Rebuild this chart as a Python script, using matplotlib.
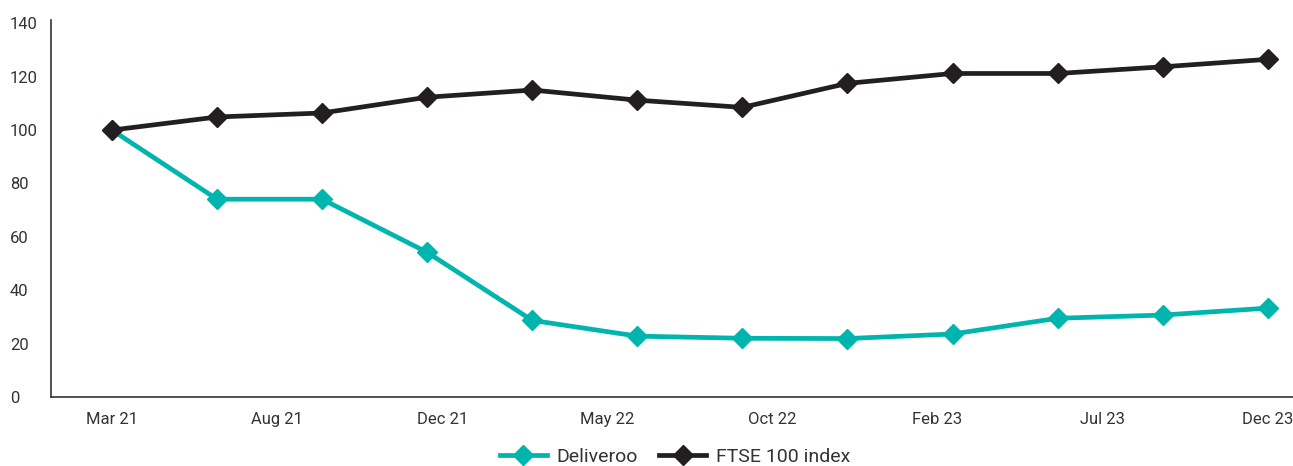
import numpy as np
import matplotlib
matplotlib.use("Agg")
from matplotlib import pyplot as plt

# data (quarterly, indexed to 100 at Mar 21)
tick_labels = ["Mar 21", "Aug 21", "Dec 21", "May 22", "Oct 22", "Feb 23", "Jul 23", "Dec 23"]
deliveroo = [100, 74.1, 74.1, 54.2, 28.7, 22.8, 22.0, 21.9, 23.6, 29.5, 30.7, 33.3]
ftse = [100, 104.9, 106.4, 112.3, 115.0, 111.2, 108.5, 117.5, 121.2, 121.2, 123.7, 126.5]
yticks = [0, 20, 40, 60, 80, 100, 120, 140]

teal = "#00b5ad"
black = "#231f20"
text_col = "#333333"

plt.rcParams['font.family'] = ['Roboto', 'DejaVu Sans']

W, H = 1293, 466
fig = plt.figure(figsize=(W / 100, H / 100), dpi=100)
ax = fig.add_axes([51 / W, 1 - 397 / H, 1 - 51 / W, (397 - 20) / H])

x = np.arange(len(ftse))
ax.plot(x, deliveroo, color=teal, lw=3.4, marker="D", ms=10.5, label="Deliveroo", zorder=2)
ax.plot(x, ftse, color=black, lw=3.4, marker="D", ms=10.5, label="FTSE 100 index", zorder=3)

ax.set_xlim(-0.58, 11.24)
ax.set_ylim(0, 140 * (397 - 20) / (397 - 23.3))

ax.set_xticks(np.linspace(0, len(ftse) - 1, len(tick_labels)))
ax.set_xticklabels(tick_labels)
ax.set_yticks(yticks)
ax.set_yticklabels([str(v) for v in yticks])
for lab in ax.get_yticklabels():
    lab.set_ha("left")

ax.tick_params(axis="both", length=0, labelsize=12, labelcolor=text_col)
ax.tick_params(axis="y", pad=29.5)
ax.tick_params(axis="x", pad=11)

for side in ["top", "right"]:
    ax.spines[side].set_visible(False)
for side in ["left", "bottom"]:
    ax.spines[side].set_color("#333333")
    ax.spines[side].set_linewidth(1.2)

fig.legend(loc="center", bbox_to_anchor=(675 / W, 1 - 457 / H), ncol=2, frameon=False,
           fontsize=14, handlelength=2.4, handletextpad=0.5, columnspacing=1.1,
           labelcolor=text_col)

fig.savefig("out.png", dpi=100)
